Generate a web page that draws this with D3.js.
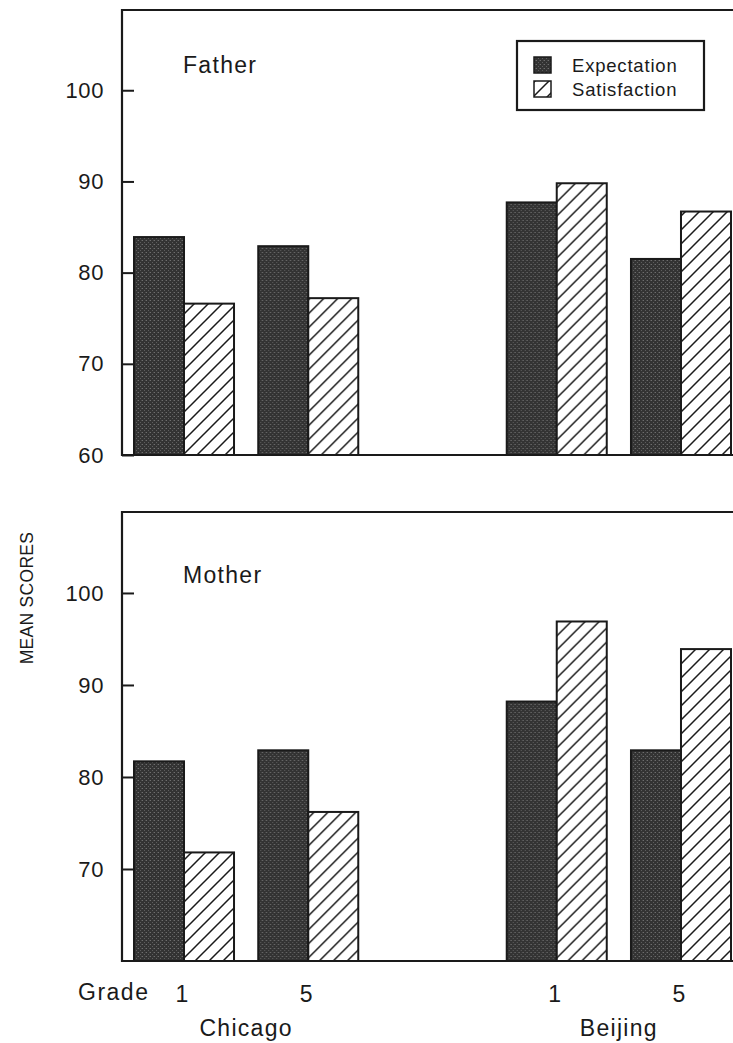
<!DOCTYPE html>
<html>
<head>
<meta charset="utf-8">
<script src="https://cdn.jsdelivr.net/npm/d3@7"></script>
<style>
  html, body { margin: 0; padding: 0; background: #fff; }
  svg { display: block; }
  text { font-family: "Liberation Sans", Arial, Helvetica, sans-serif; fill: #1a1a1a; }
</style>
</head>
<body>
<svg id="chart" width="733" height="1043"></svg>
<script>
// ---------- data ----------
const slots = ["Chicago-1", "Chicago-5", "gap", "Beijing-1", "Beijing-5"];
const groupKeys = ["Chicago-1", "Chicago-5", "Beijing-1", "Beijing-5"];
const gradeLabels = ["1", "5", "1", "5"];
const cities = ["Chicago", "Beijing"];
const series = ["Expectation", "Satisfaction"];

const fatherExpectation  = [83.9, 82.9, 87.7, 81.5];
const fatherSatisfaction = [76.6, 77.2, 89.8, 86.7];
const motherExpectation  = [81.7, 82.9, 88.2, 82.9];
const motherSatisfaction = [71.8, 76.2, 96.9, 93.9];

const fatherTicks = [60, 70, 80, 90, 100];
const motherTicks = [70, 80, 90, 100];
const yDomain = [60, 108.8];

// ---------- setup ----------
const svg = d3.select("#chart");
const defs = svg.append("defs");

// stipple pattern for Expectation
const stip = defs.append("pattern").attr("id", "stipple")
  .attr("patternUnits", "userSpaceOnUse").attr("width", 4).attr("height", 4);
stip.append("rect").attr("width", 4).attr("height", 4).attr("fill", "#333333");
stip.append("rect").attr("x", 0).attr("y", 0).attr("width", 1).attr("height", 1).attr("fill", "#6e6e6e");
stip.append("rect").attr("x", 2).attr("y", 2).attr("width", 1).attr("height", 1).attr("fill", "#5e5e5e");
stip.append("rect").attr("x", 3).attr("y", 0).attr("width", 1).attr("height", 1).attr("fill", "#4a4a4a");

// hatch pattern for Satisfaction
const hatch = defs.append("pattern").attr("id", "hatch")
  .attr("patternUnits", "userSpaceOnUse").attr("width", 14).attr("height", 14);
hatch.append("rect").attr("width", 14).attr("height", 14).attr("fill", "#fff");
hatch.append("path").attr("d", "M-2,2 L2,-2 M0,14 L14,0 M12,16 L16,12")
  .attr("stroke", "#1a1a1a").attr("stroke-width", 1.5);

const fills = { Expectation: "url(#stipple)", Satisfaction: "url(#hatch)" };

const x0 = d3.scaleBand().domain(slots).range([134, 731]).paddingInner(0.195).paddingOuter(0);
const x1 = d3.scaleBand().domain(series).range([0, x0.bandwidth()]);
const xCenter = k => x0(k) + x0.bandwidth() / 2;

const axisX = 122;

function panel(cfg) {
  const y = d3.scaleLinear().domain(yDomain).range([cfg.bottom, cfg.top]);
  const g = svg.append("g");

  const rows = groupKeys.map((k, i) => ({
    key: k,
    Expectation: cfg.exp[i],
    Satisfaction: cfg.sat[i]
  }));

  // bars
  const grp = g.selectAll("g.grp").data(rows).join("g")
    .attr("transform", d => `translate(${x0(d.key)},0)`);
  grp.selectAll("rect").data(d => series.map(s => ({ s, v: d[s] }))).join("rect")
    .attr("x", d => x1(d.s))
    .attr("y", d => y(d.v))
    .attr("width", x1.bandwidth())
    .attr("height", d => y(yDomain[0]) - y(d.v))
    .attr("fill", d => fills[d.s])
    .attr("stroke", "#1a1a1a")
    .attr("stroke-width", 2);

  // frame (right side runs off the page)
  g.append("path")
    .attr("d", `M760,${cfg.top} L${axisX},${cfg.top} L${axisX},${cfg.bottom} L760,${cfg.bottom}`)
    .attr("fill", "none").attr("stroke", "#1a1a1a").attr("stroke-width", 2.2);

  // y axis
  const ax = g.append("g").attr("transform", `translate(${axisX},0)`)
    .call(d3.axisLeft(y).tickValues(cfg.ticks).tickSize(-12).tickPadding(18).tickFormat(d3.format("d")));
  ax.select(".domain").remove();
  ax.selectAll(".tick line").attr("stroke", "#1a1a1a").attr("stroke-width", 2);
  ax.selectAll(".tick text").attr("font-size", 22).attr("letter-spacing", 0.6).attr("fill", "#1a1a1a")
    .attr("font-family", "'Liberation Sans', Arial, sans-serif");

  // panel title
  g.append("text").attr("x", 183).attr("y", cfg.titleY)
    .attr("font-size", 23).attr("letter-spacing", 1.3).text(cfg.title);
  return y;
}

panel({ top: 10, bottom: 455, exp: fatherExpectation, sat: fatherSatisfaction,
        ticks: fatherTicks, title: "Father", titleY: 73 });
panel({ top: 512, bottom: 961, exp: motherExpectation, sat: motherSatisfaction,
        ticks: motherTicks, title: "Mother", titleY: 583 });

// legend
const lg = svg.append("g");
lg.append("rect").attr("x", 517).attr("y", 41).attr("width", 187).attr("height", 69)
  .attr("fill", "#fff").attr("stroke", "#1a1a1a").attr("stroke-width", 2.2);
series.forEach((s, i) => {
  const yy = 57 + i * 24;
  lg.append("rect").attr("x", 534).attr("y", yy).attr("width", 17).attr("height", 16)
    .attr("fill", fills[s]).attr("stroke", "#1a1a1a").attr("stroke-width", 1.5);
  lg.append("text").attr("x", 572).attr("y", yy + 15).attr("font-size", 18.5)
    .attr("letter-spacing", 0.8).text(s);
});

// y axis title
svg.append("text").attr("transform", "translate(33,598) rotate(-90)")
  .attr("text-anchor", "middle").attr("font-size", 17.5).attr("letter-spacing", 0.3).text("MEAN SCORES");

// x labels
svg.append("text").attr("x", 78).attr("y", 1000).attr("font-size", 23).attr("letter-spacing", 1.5).text("Grade");
svg.selectAll("text.grade").data(groupKeys).join("text").attr("class", "grade")
  .attr("x", (k) => xCenter(k) - 2).attr("y", 1002)
  .attr("text-anchor", "middle").attr("font-size", 23)
  .text((k, i) => gradeLabels[i]);
svg.selectAll("text.city").data(cities).join("text").attr("class", "city")
  .attr("x", c => (xCenter(c + "-1") + xCenter(c + "-5")) / 2)
  .attr("y", 1036).attr("text-anchor", "middle").attr("font-size", 23).attr("letter-spacing", 1.3)
  .text(c => c);
</script>
</body>
</html>
